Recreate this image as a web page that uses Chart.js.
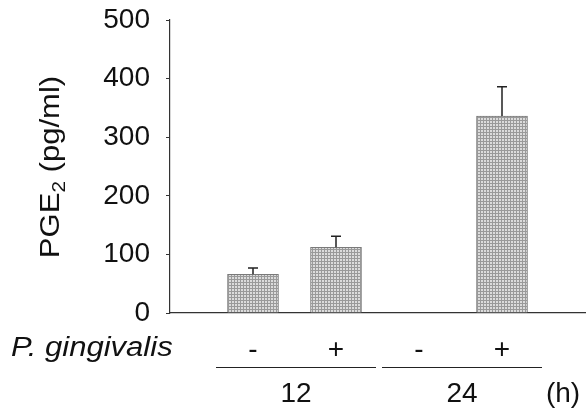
<!DOCTYPE html>
<html>
<head>
<meta charset="utf-8">
<script src="https://cdn.jsdelivr.net/npm/chart.js@4"></script>
<style>
  html, body { margin: 0; padding: 0; background: #fff; }
  #wrap { width: 586px; height: 414px; }
</style>
</head>
<body>
<div id="wrap"><canvas id="chart"></canvas></div>
<script>
// bar positions: blank slot at each end so the bars sit on whole-number ticks
const labels = ["", "-", "+", "-", "+", ""];
const pge2 = [null, 66, 112, 0, 336, null];
const errors = [null, 11, 19, 0, 50, null];
const yTicks = [0, 100, 200, 300, 400, 500];
const groups = ["12", "24"];
const groupIndex = [[1, 2], [3, 4]];
const unitLabel = "(h)";
const rowLabel = "P. gingivalis";

const FONT = "'Liberation Sans', Arial, sans-serif";

// stippled grey fill like the scanned figure
function makePattern() {
    const c = document.createElement("canvas");
    c.width = 3; c.height = 3;
    const g = c.getContext("2d");
    g.fillStyle = "#dcdcdc";
    g.fillRect(0, 0, 3, 3);
    g.fillStyle = "#9a9a9a";
    g.fillRect(0, 0, 3, 1);
    g.fillRect(0, 0, 1, 3);
    return g.createPattern(c, "repeat");
}

const errorBars = {
    id: "errorBars",
    afterDatasetsDraw(chart) {
        const ctx = chart.ctx;
        const y = chart.scales.y;
        const meta = chart.getDatasetMeta(0);
        ctx.save();
        ctx.strokeStyle = "#222";
        ctx.lineWidth = 1.5;
        meta.data.forEach((bar, i) => {
            if (!errors[i]) return;
            const top = y.getPixelForValue(pge2[i] + errors[i]);
            ctx.beginPath();
            ctx.moveTo(bar.x, bar.y);
            ctx.lineTo(bar.x, top);
            ctx.moveTo(bar.x - 5, top);
            ctx.lineTo(bar.x + 5, top);
            ctx.stroke();
        });
        ctx.restore();
    }
};

const extraText = {
    id: "extraText",
    afterDraw(chart) {
        const ctx = chart.ctx;
        const x = chart.scales.x;
        ctx.save();
        ctx.fillStyle = "#111";

        // y title with subscript (the scan is a little stretched along the text)
        ctx.translate(52, 167);
        ctx.rotate(-Math.PI / 2);
        ctx.scale(1.15, 1);
        ctx.textBaseline = "middle";
        const a = "PGE", b = "2", c = " (pg/ml)";
        ctx.font = "27px " + FONT;
        const wa = ctx.measureText(a).width, wc = ctx.measureText(c).width;
        ctx.font = "18px " + FONT;
        const wb = ctx.measureText(b).width;
        let sx = -(wa + wb + wc) / 2;
        ctx.font = "27px " + FONT;
        ctx.textAlign = "left";
        ctx.fillText(a, sx, 0);
        ctx.font = "18px " + FONT;
        ctx.fillText(b, sx + wa, 8);
        ctx.font = "27px " + FONT;
        ctx.fillText(c, sx + wa + wb, 0);
        ctx.setTransform(1, 0, 0, 1, 0, 0);

        // row label
        ctx.save();
        ctx.translate(11, 348);
        ctx.scale(1.15, 1);
        ctx.font = "italic 27px " + FONT;
        ctx.textAlign = "left";
        ctx.textBaseline = "middle";
        ctx.fillText(rowLabel, 0, 0);
        ctx.restore();

        // group lines and labels
        ctx.strokeStyle = "#222";
        ctx.lineWidth = 1.2;
        ctx.font = "28px " + FONT;
        ctx.textAlign = "center";
        ctx.textBaseline = "middle";
        groupIndex.forEach((pair, k) => {
            const x0 = x.getPixelForValue(pair[0]) - 37;
            const x1 = x.getPixelForValue(pair[1]) + 40;
            ctx.beginPath();
            ctx.moveTo(x0, 367.5);
            ctx.lineTo(x1, 367.5);
            ctx.stroke();
            ctx.fillText(groups[k], (x0 + x1) / 2, 394);
        });
        ctx.fillText(unitLabel, 563, 394);
        ctx.restore();
    }
};

new Chart(document.getElementById("chart"), {
    type: "bar",
    data: {
        labels: labels,
        datasets: [{
            data: pge2,
            backgroundColor: makePattern(),
            borderColor: "#7a7a7a",
            borderWidth: 1,
            barThickness: 51
        }]
    },
    options: {
        responsive: true,
        maintainAspectRatio: false,
        animation: false,
        layout: { padding: { top: 20, right: 1, left: 0, bottom: 0 } },
        plugins: {
            legend: { display: false },
            tooltip: { enabled: false }
        },
        scales: {
            x: {
                offset: false,
                grid: { display: false, drawTicks: false },
                border: { display: true, color: "#333", width: 1.2 },
                ticks: {
                    color: "#111",
                    font: { family: FONT, size: 28 },
                    padding: 20,
                    maxRotation: 0,
                    autoSkip: false
                },
                afterFit(scale) {
                    scale.height = 101;
                    scale.paddingLeft = 0;
                    scale.paddingRight = 0;
                }
            },
            y: {
                min: 0,
                max: 500,
                afterBuildTicks(scale) {
                    scale.ticks = yTicks.map(v => ({ value: v }));
                },
                grid: { drawOnChartArea: false, tickLength: 4, color: "#333" },
                border: { display: true, color: "#333", width: 1.2 },
                ticks: {
                    color: "#111",
                    font: { family: FONT, size: 28 },
                    padding: 16
                },
                afterFit(scale) {
                    scale.width = 170;
                    scale.paddingTop = 0;
                    scale.paddingBottom = 0;
                }
            }
        }
    },
    plugins: [errorBars, extraText]
});
</script>
</body>
</html>
